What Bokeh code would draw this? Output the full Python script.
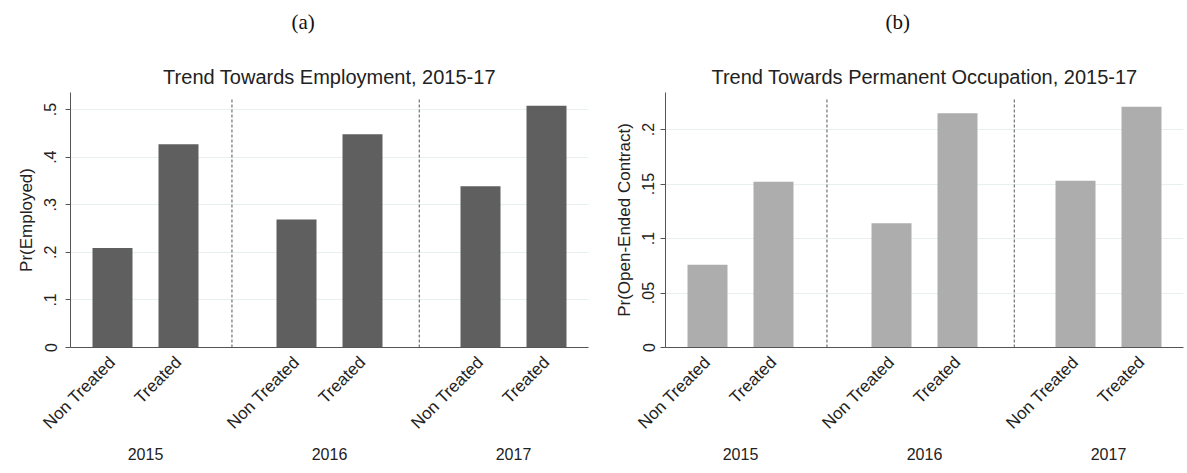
import math
from bokeh.plotting import figure
from bokeh.models import FactorRange, Range1d, FixedTicker, Title, ColumnDataSource
from bokeh.layouts import row
from bokeh.embed import file_html
from bokeh.resources import INLINE

# ---- data ----
years = ["2015", "2016", "2017"]
groups = ["Non Treated", "Treated"]
employed = [0.209, 0.427, 0.269, 0.448, 0.339, 0.508]
open_ended = [0.076, 0.152, 0.114, 0.215, 0.153, 0.221]
emp_ticks = [0, 0.1, 0.2, 0.3, 0.4, 0.5]
emp_tick_labels = ["0", ".1", ".2", ".3", ".4", ".5"]
oe_ticks = [0, 0.05, 0.1, 0.15, 0.2]
oe_tick_labels = ["0", ".05", ".1", ".15", ".2"]

factors = [(y, g) for y in years for g in groups]

FONT = "Liberation Sans"
TXT = "#222222"


def panel(title, sub, ylabel, values, color, ticks, tick_labels, ymax,
          border_left, border_right, sub_offset, sep_offsets, tick_standoff):
    xr = FactorRange(*factors, group_padding=0.788, factor_padding=0.0,
                     range_padding=0.036, range_padding_units="percent")
    p = figure(x_range=xr, y_range=Range1d(0, ymax),
               frame_width=518, frame_height=255,
               min_border_left=border_left, min_border_right=border_right,
               min_border_top=92, min_border_bottom=126,
               output_backend="svg", toolbar_location=None,
               background_fill_color="white", border_fill_color="white")
    p.outline_line_color = None

    src = ColumnDataSource(dict(x=factors, top=values))
    p.vbar(x="x", top="top", width=0.606, source=src,
           fill_color=color, line_color=None)

    sep_x = [(years[i], groups[-1], sep_offsets[i]) for i in range(len(years) - 1)]
    p.segment(x0=sep_x, y0=[0] * len(sep_x), x1=sep_x,
              y1=[ymax * 0.975] * len(sep_x),
              line_color="#555555", line_width=1, line_dash="3 2")

    # subfigure label (outermost)
    p.title.text = sub
    p.title.align = "left"
    p.title.offset = sub_offset
    p.title.text_font = "Liberation Serif"
    p.title.text_font_size = "21px"
    p.title.text_font_style = "normal"
    p.title.text_color = "#111111"
    p.title.standoff = 8
    # chart title (closest to the frame)
    p.add_layout(Title(text=title, align="center",
                       text_font=FONT, text_font_size="20px",
                       text_font_style="normal", text_color=TXT,
                       standoff=9), "above")
    # empty spacer between the two
    p.add_layout(Title(text=" ", text_font_size="8px", standoff=11), "above")

    # y axis
    yax = p.yaxis[0]
    yax.ticker = FixedTicker(ticks=ticks)
    yax.major_label_overrides = {t: l for t, l in zip(ticks, tick_labels)}
    yax.major_label_orientation = "vertical"
    yax.major_label_text_font = FONT
    yax.major_label_text_font_size = "16px"
    yax.major_label_text_color = TXT
    yax.major_label_standoff = tick_standoff
    yax.major_tick_out = 5
    yax.major_tick_in = 0
    yax.minor_tick_line_color = None
    yax.axis_line_color = "#555555"
    yax.major_tick_line_color = "#555555"
    yax.axis_label = ylabel
    yax.axis_label_text_font = FONT
    yax.axis_label_text_font_size = "17px"
    yax.axis_label_text_font_style = "normal"
    yax.axis_label_text_color = TXT
    yax.axis_label_standoff = 6

    # x axis
    xax = p.xaxis[0]
    xax.major_label_orientation = math.pi / 4
    xax.major_label_text_font = FONT
    xax.major_label_text_font_size = "17px"
    xax.major_label_text_color = TXT
    xax.major_label_standoff = 6
    xax.group_text_font = FONT
    xax.group_text_font_size = "16px"
    xax.group_text_font_style = "normal"
    xax.group_text_color = TXT
    xax.group_label_orientation = "horizontal"
    xax.separator_line_color = None
    xax.major_tick_line_color = None
    xax.minor_tick_line_color = None
    xax.axis_line_color = "#555555"

    p.xgrid.grid_line_color = None
    p.ygrid.ticker = FixedTicker(ticks=ticks)
    p.ygrid.grid_line_color = "#e8eff0"
    p.ygrid.grid_line_width = 1
    return p


pa = panel("Trend Towards Employment, 2015-17", "(a)", "Pr(Employed)",
           employed, "#5f5f5f", emp_ticks, emp_tick_labels, 0.536,
           70, 6, 221, [0.81, 0.86], 9)
pb = panel("Trend Towards Permanent Occupation, 2015-17", "(b)",
           "Pr(Open-Ended Contract)", open_ended, "#adadad", oe_ticks,
           oe_tick_labels, 0.234, 71, 4, 220, [0.81, 0.86], 6)

layout = row(pa, pb, spacing=0)
open("out.html", "w").write(file_html(layout, INLINE))
